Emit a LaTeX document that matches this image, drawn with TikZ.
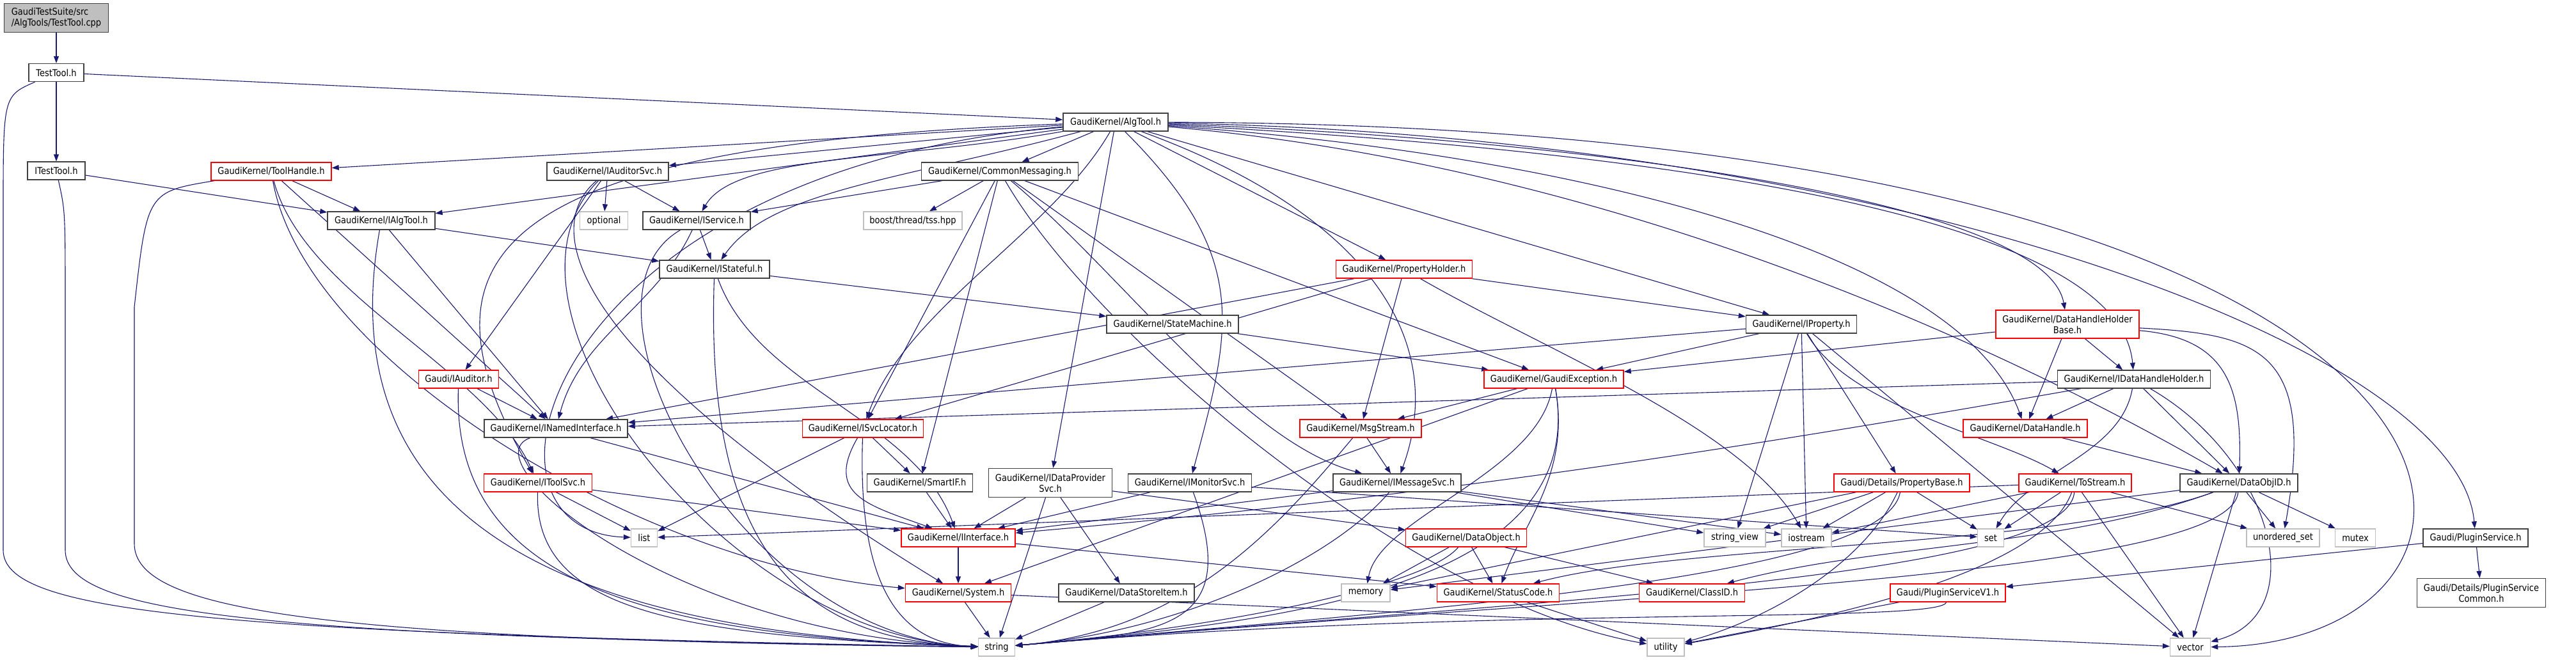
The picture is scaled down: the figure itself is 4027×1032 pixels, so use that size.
\documentclass[tikz,border=0pt]{standalone}
\usepackage{fontspec}
\setmainfont{DejaVu Sans}[FakeStretch=0.88]
\usepackage{tikz}
\usetikzlibrary{arrows.meta,backgrounds}

\definecolor{edgeblue}{HTML}{191970}
\definecolor{boxgrey}{HTML}{404040}
\definecolor{sysgrey}{HTML}{BFBFBF}
\definecolor{cutred}{HTML}{FF0000}

\begin{document}
\begin{tikzpicture}[x=1pt, y=-1pt,
  hdr/.style={rectangle, draw=boxgrey, fill=white, line width=1.4pt, inner sep=0pt,
    minimum height=28pt, align=center, font=\fontsize{14.8}{17}\selectfont},
  hdrcut/.style={hdr, draw=cutred},
  hdrsys/.style={hdr, draw=sysgrey},
  hdrroot/.style={hdr, fill=sysgrey, align=left},
  inc/.style={-{Triangle[length=11pt,width=8pt]}, draw=edgeblue, line width=1.1pt}
]
\useasboundingbox (0,0) rectangle (4027,1032);

% Headers
\node[hdrroot, minimum width=163pt, minimum height=45pt] (testcpp) at (88,28) {GaudiTestSuite/src\\/AlgTools/TestTool.cpp};
\node[hdr, minimum width=86pt]  (testtool)  at (88,113.5) {TestTool.h};
\node[hdr, minimum width=90pt]  (itesttool) at (88,267)   {ITestTool.h};
\node[hdr, minimum width=164pt] (algtool)   at (1744,191) {GaudiKernel/AlgTool.h};
\node[hdrcut, minimum width=188pt] (toolhandle) at (424,268) {GaudiKernel/ToolHandle.h};
\node[hdr, minimum width=168pt] (ialgtool)  at (596,345)  {GaudiKernel/IAlgTool.h};
\node[hdr, minimum width=190pt] (iauditorsvc) at (950,268) {GaudiKernel/IAuditorSvc.h};
\node[hdrsys, minimum width=75pt] (optional) at (944,345) {optional};
\node[hdr, minimum width=168pt] (iservice)  at (1089,345) {GaudiKernel/IService.h};
\node[hdr, minimum width=172pt] (istateful) at (1117,421) {GaudiKernel/IStateful.h};
\node[hdr, minimum width=245pt] (commonmsg) at (1563,268) {GaudiKernel/CommonMessaging.h};
\node[hdrsys, minimum width=154pt] (boosttss) at (1427,345) {boost/thread/tss.hpp};
\node[hdr, minimum width=206pt] (statemachine) at (1833,507) {GaudiKernel/StateMachine.h};
\node[hdrcut, minimum width=125pt] (iauditor) at (717,593) {Gaudi/IAuditor.h};
\node[hdr, minimum width=224pt] (inamedif)  at (869,670)  {GaudiKernel/INamedInterface.h};
\node[hdrcut, minimum width=169pt] (itoolsvc) at (841,755) {GaudiKernel/IToolSvc.h};
\node[hdrsys, minimum width=41pt] (list) at (1007,841) {list};
\node[hdrcut, minimum width=189pt] (isvclocator) at (1349,670) {GaudiKernel/ISvcLocator.h};
\node[hdr, minimum width=165pt] (smartif)   at (1438,755) {GaudiKernel/SmartIF.h};
\node[hdr, minimum width=193pt, minimum height=45pt] (idataprov) at (1642,755) {GaudiKernel/IDataProvider\\Svc.h};
\node[hdr, minimum width=193pt] (imonitorsvc) at (1860,755) {GaudiKernel/IMonitorSvc.h};
\node[hdrcut, minimum width=178pt] (iinterface) at (1498,841) {GaudiKernel/IInterface.h};
\node[hdrcut, minimum width=165pt] (system) at (1498,927) {GaudiKernel/System.h};
\node[hdr, minimum width=212pt] (datastoreitem) at (1761,927) {GaudiKernel/DataStoreItem.h};
\node[hdrsys, minimum width=57pt] (string) at (1558,1012) {string};
\node[hdrcut, minimum width=213pt] (propholder) at (2195,421) {GaudiKernel/PropertyHolder.h};
\node[hdrcut, minimum width=218pt] (gaudiexc) at (2429,593) {GaudiKernel/GaudiException.h};
\node[hdrcut, minimum width=190pt] (msgstream) at (2127,670) {GaudiKernel/MsgStream.h};
\node[hdr, minimum width=200pt] (imessagesvc) at (2184,755) {GaudiKernel/IMessageSvc.h};
\node[hdrcut, minimum width=189pt] (dataobject) at (2292,841) {GaudiKernel/DataObject.h};
\node[hdrsys, minimum width=76pt] (memory) at (2135,927) {memory};
\node[hdrcut, minimum width=191pt] (statuscode) at (2342,927) {GaudiKernel/StatusCode.h};
\node[hdrcut, minimum width=165pt] (classid) at (2645,927) {GaudiKernel/ClassID.h};
\node[hdrsys, minimum width=58pt] (utility) at (2604,1012) {utility};
\node[hdrsys, minimum width=96pt] (stringview) at (2712,841) {string\_view};
\node[hdr, minimum width=173pt] (iproperty) at (2816,507) {GaudiKernel/IProperty.h};
\node[hdrcut, minimum width=224pt, minimum height=44pt] (dhhbase) at (3232,507) {GaudiKernel/DataHandleHolder\\Base.h};
\node[hdrsys, minimum width=78pt] (iostream) at (2824,841) {iostream};
\node[hdrsys, minimum width=41pt] (set) at (3112,841) {set};
\node[hdrcut, minimum width=212pt] (propbase) at (2973,755) {Gaudi/Details/PropertyBase.h};
\node[hdrcut, minimum width=176pt] (tostream) at (3244,755) {GaudiKernel/ToStream.h};
\node[hdrcut, minimum width=194pt] (datahandle) at (3166,670) {GaudiKernel/DataHandle.h};
\node[hdr, minimum width=239pt] (idhholder) at (3336,593) {GaudiKernel/IDataHandleHolder.h};
\node[hdrcut, minimum width=180pt] (pluginv1) at (3045,927) {Gaudi/PluginServiceV1.h};
\node[hdr, minimum width=184pt] (dataobjid) at (3500,755) {GaudiKernel/DataObjID.h};
\node[hdrsys, minimum width=114pt] (unorderedset) at (3569,841) {unordered\_set};
\node[hdrsys, minimum width=63pt] (mutex) at (3682,841) {mutex};
\node[hdr, minimum width=164pt] (pluginsvc) at (3870,841) {Gaudi/PluginService.h};
\node[hdr, minimum width=201pt, minimum height=45pt] (plugincommon) at (3879,927) {Gaudi/Details/PluginService\\Common.h};
\node[hdrsys, minimum width=63pt] (vector) at (3424,1012) {vector};

\begin{scope}[on background layer]
% Includes
\draw[inc] (testcpp) -- (testtool);
\foreach \t in {itesttool, algtool} \draw[inc] (testtool) -- (\t);
\draw[inc] (itesttool) -- (ialgtool);

% AlgTool.h
\foreach \t in {toolhandle, ialgtool, iauditorsvc, commonmsg, propholder, idataprov, iproperty}
  \draw[inc] (algtool) -- (\t);
\draw[inc] (algtool) .. controls +(190:350pt) and +(60:120pt) .. (iservice);
\draw[inc] (algtool) .. controls +(195:350pt) and +(55:150pt) .. (istateful);
\draw[inc] (algtool) .. controls +(-120:200pt) and +(70:200pt) .. (isvclocator);
\draw[inc] (algtool) .. controls +(182:1000pt) and +(120:400pt) .. (itoolsvc);
\draw[inc] (algtool) .. controls +(185:900pt) and +(178:300pt) .. (list);
\draw[inc] (algtool) .. controls +(-45:300pt) and +(75:250pt) .. (imonitorsvc);
\draw[inc] (algtool) .. controls +(-20:400pt) and +(70:250pt) .. (imessagesvc);
\draw[inc] (algtool) .. controls +(-2:700pt) and +(100:200pt) .. (dhhbase);
\draw[inc] (algtool) .. controls +(-3:900pt) and +(95:250pt) .. (idhholder);
\draw[inc] (algtool) .. controls +(-4:700pt) and +(110:300pt) .. (datahandle);
\draw[inc] (algtool) .. controls +(-5:800pt) and +(150:400pt) .. (dataobjid);
\draw[inc] (algtool) .. controls +(-1:1200pt) and +(95:300pt) .. (pluginsvc);
\draw[inc] (algtool) .. controls (4018,196) and (4018,1005) .. (vector);

% ToolHandle.h and the interfaces under it
\foreach \t in {ialgtool, inamedif} \draw[inc] (toolhandle) -- (\t);
\draw[inc] (toolhandle) .. controls +(-75:200pt) and +(115:200pt) .. (itoolsvc);
\draw[inc] (toolhandle) .. controls +(-80:300pt) and +(175:500pt) .. (system);
\foreach \t in {inamedif, istateful} \draw[inc] (ialgtool) -- (\t);
\foreach \t in {iauditor, optional, iservice} \draw[inc] (iauditorsvc) -- (\t);
\draw[inc] (iauditorsvc) .. controls (840,360) and (900,560) .. (system);
\draw[inc] (iservice) .. controls +(-115:150pt) and +(75:150pt) .. (inamedif);
\draw[inc] (iservice) -- (istateful);
\draw[inc] (istateful) -- (statemachine);
\draw[inc] (istateful) .. controls +(-70:200pt) and +(110:200pt) .. (iinterface);
\draw[inc] (iauditor) -- (inamedif);
\draw[inc] (inamedif) -- (iinterface);
\foreach \t in {list, iinterface} \draw[inc] (itoolsvc) -- (\t);
\foreach \t in {list, smartif} \draw[inc] (isvclocator) -- (\t);
\draw[inc] (isvclocator) .. controls +(-120:120pt) and +(160:150pt) .. (iinterface);

% CommonMessaging.h
\foreach \t in {boosttss, iservice, isvclocator, smartif, msgstream, gaudiexc}
  \draw[inc] (commonmsg) -- (\t);
\draw[inc] (commonmsg) .. controls +(-40:250pt) and +(165:250pt) .. (imessagesvc);
\draw[inc] (commonmsg) .. controls +(-60:300pt) and +(170:400pt) .. (utility);

% PropertyHolder.h and properties
\foreach \t in {inamedif, isvclocator, msgstream, iproperty} \draw[inc] (propholder) -- (\t);
\draw[inc] (propholder) .. controls +(-30:250pt) and +(120:200pt) .. (iostream);
\draw[inc] (statemachine) -- (gaudiexc);
\foreach \t in {inamedif, gaudiexc, stringview, iostream, propbase, vector} \draw[inc] (iproperty) -- (\t);
\draw[inc] (iproperty) .. controls +(-60:150pt) and +(150:150pt) .. (tostream);
\foreach \t in {stringview, iostream, set, memory} \draw[inc] (propbase) -- (\t);
\draw[inc] (propbase) .. controls +(-115:150pt) and +(15:150pt) .. (utility);
\foreach \t in {list, iostream, set, unorderedset, vector} \draw[inc] (tostream) -- (\t);
\draw[inc] (tostream) .. controls +(-110:150pt) and +(10:250pt) .. (utility);

% data handles
\foreach \t in {gaudiexc, datahandle, idhholder} \draw[inc] (dhhbase) -- (\t);
\draw[inc] (dhhbase) .. controls +(-5:250pt) and +(88:150pt) .. (dataobjid);
\draw[inc] (dhhbase) .. controls +(-3:300pt) and +(80:300pt) .. (unorderedset);
\foreach \t in {inamedif, datahandle, dataobjid} \draw[inc] (idhholder) -- (\t);
\draw[inc] (idhholder) .. controls +(190:700pt) and +(5:700pt) .. (iinterface);
\draw[inc] (idhholder) .. controls +(-100:120pt) and +(60:120pt) .. (set);
\draw[inc] (idhholder) .. controls +(-30:250pt) and +(15:200pt) .. (vector);
\draw[inc] (datahandle) -- (dataobjid);
\foreach \t in {memory, unorderedset, mutex, vector} \draw[inc] (dataobjid) -- (\t);
\foreach \t in {classid, statuscode}
  \draw[inc] (dataobjid) .. controls +(-160:300pt) and +(15:300pt) .. (\t);

% services and kernel
\draw[inc] (smartif) -- (iinterface);
\foreach \t in {system, statuscode} \draw[inc] (iinterface) -- (\t);
\foreach \t in {iinterface, datastoreitem, dataobject, string} \draw[inc] (idataprov) -- (\t);
\foreach \t in {iinterface, set} \draw[inc] (imonitorsvc) -- (\t);
\foreach \t in {iinterface, stringview, iostream} \draw[inc] (imessagesvc) -- (\t);
\draw[inc] (msgstream) -- (imessagesvc);
\foreach \t in {msgstream, system} \draw[inc] (gaudiexc) -- (\t);
\draw[inc] (gaudiexc) .. controls +(-80:150pt) and +(70:120pt) .. (statuscode);
\draw[inc] (gaudiexc) .. controls +(-100:150pt) and +(80:120pt) .. (memory);
\foreach \t in {memory, statuscode, classid} \draw[inc] (dataobject) -- (\t);
\foreach \t in {string, vector} \draw[inc] (system) -- (\t);
\draw[inc] (statuscode) -- (utility);
\draw[inc] (datastoreitem) -- (string);
\foreach \t in {pluginv1, plugincommon} \draw[inc] (pluginsvc) -- (\t);
\draw[inc] (pluginv1) -- (utility);

% into <string>, from the left and from the right
\draw[inc] (testtool) .. controls (5,150) .. (5,330) -- (5,860) .. controls (5,955) and (300,990) .. (string);
\draw[inc] (itesttool) .. controls (102,330) .. (102,480) -- (102,860) .. controls (102,960) and (400,995) .. (string);
\draw[inc] (toolhandle) .. controls (230,300) .. (210,480) -- (210,850) .. controls (210,955) and (500,1000) .. (string);
\foreach \src/\dir/\dout/\din in {ialgtool/-100/520pt/600pt, iauditor/-92/330pt/520pt,
    iauditorsvc/-135/300pt/420pt, iservice/-150/250pt/400pt, istateful/-92/450pt/300pt,
    inamedif/200/150pt/500pt, itoolsvc/-92/200pt/500pt, isvclocator/-92/250pt/150pt}
  \draw[inc] (\src) .. controls +(\dir:\dout) and +(178:\din) .. (string);
\foreach \src/\dir/\dout/\din in {imonitorsvc/-70/250pt/250pt, imessagesvc/-130/150pt/300pt,
    msgstream/-130/200pt/300pt, gaudiexc/-80/330pt/450pt, dataobject/-130/100pt/350pt,
    propbase/-100/150pt/700pt, tostream/-95/150pt/850pt, dataobjid/-95/150pt/950pt,
    pluginv1/-100/50pt/750pt}
  \draw[inc] (\src) .. controls +(\dir:\dout) and +(5:\din) .. (string);
\end{scope}

\end{tikzpicture}
\end{document}
